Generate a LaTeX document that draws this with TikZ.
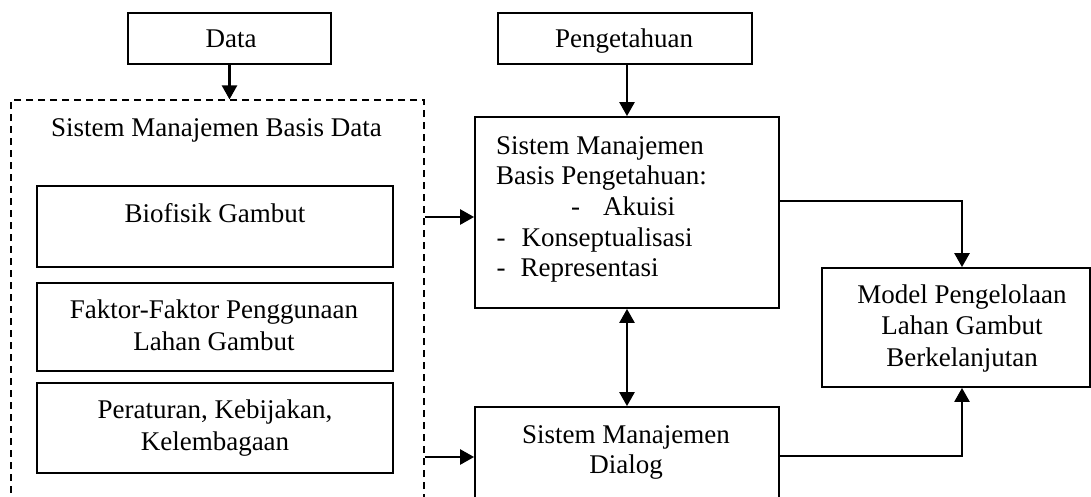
\documentclass[tikz,border=0pt]{standalone}
\usepackage{fontspec}
\setmainfont{Liberation Serif}
\usetikzlibrary{arrows.meta}
\begin{document}
\begin{tikzpicture}[x=1pt,y=-1pt,
  box/.style={draw, line width=1.8pt, inner sep=0pt},
  dbox/.style={draw, line width=1.2pt, dash pattern=on 7pt off 5pt, inner sep=0pt},
  txt/.style={font=\fontsize{27}{31}\selectfont, inner sep=0pt},
  arr/.style={line width=2.5pt, -{Triangle[length=14pt,width=15pt]}},
  darr/.style={line width=2.5pt, {Triangle[length=14pt,width=15pt]}-{Triangle[length=14pt,width=15pt]}}]
\useasboundingbox (0,0) rectangle (1091,496);
\clip (0,0) rectangle (1091,496);
% boxes
\node[box, minimum width=203pt, minimum height=51pt] (data) at (229.5,38.5) {};
\node[box, minimum width=254pt, minimum height=51pt] (peng) at (625,38.5) {};
\node[dbox, minimum width=413pt, minimum height=420pt] (sdb) at (217.5,310) {};
\node[box, minimum width=356pt, minimum height=81pt] (bio) at (215,226.5) {};
\node[box, minimum width=356pt, minimum height=88pt] (fak) at (215,327) {};
\node[box, minimum width=356pt, minimum height=90pt] (per) at (215,428) {};
\node[box, minimum width=304pt, minimum height=191pt] (smbp) at (627,212.5) {};
\node[box, minimum width=304pt, minimum height=113pt] (dial) at (627,463.5) {};
\node[box, minimum width=268pt, minimum height=119pt] (model) at (956,327.5) {};
% texts
\node[txt, anchor=base] (tdata) at (231,47.7) {Data};
\node[txt, anchor=base] (tpeng) at (624,47.7) {Pengetahuan};
\node[txt, anchor=base] (tsdb) at (216.5,136.7) {Sistem Manajemen Basis Data};
\node[txt, anchor=base] (tbio) at (215,222.7) {Biofisik Gambut};
\node[txt, anchor=base] (tfak1) at (214,318.3) {Faktor-Faktor Penggunaan};
\node[txt, anchor=base] (tfak2) at (214,350.7) {Lahan Gambut};
\node[txt, anchor=base] (tper1) at (215,418.3) {Peraturan, Kebijakan,};
\node[txt, anchor=base] (tper2) at (215,450.7) {Kelembagaan};
\node[txt, anchor=base west] (ts1) at (496,154) {Sistem Manajemen};
\node[txt, anchor=base west] (ts2) at (496,184.7) {Basis Pengetahuan:};
\node[txt, anchor=base west] (ts3) at (571,215.4) {\makebox[32pt][l]{-}Akuisi};
\node[txt, anchor=base west] (ts4) at (496.5,246) {\makebox[25pt][l]{-}Konseptualisasi};
\node[txt, anchor=base west] (ts5) at (496.5,276.8) {\makebox[24pt][l]{-}Representasi};
\node[txt, anchor=base] (td1) at (626,443.3) {Sistem Manajemen};
\node[txt, anchor=base] (td2) at (626,473.3) {Dialog};
\node[txt, anchor=base] (tm1) at (962,303.3) {Model Pengelolaan};
\node[txt, anchor=base] (tm2) at (962,334.3) {Lahan Gambut};
\node[txt, anchor=base] (tm3) at (962,366.7) {Berkelanjutan};
% connectors
\coordinate (a1) at (475,217);
\coordinate (a2) at (475,457);
\coordinate (k1) at (962,201);
\coordinate (k2) at (962,456);
\draw[arr] (data.south) -- (data.south |- sdb.north);
\draw[arr] (smbp.north |- peng.south) -- (smbp.north);
\draw[arr] (sdb.east |- a1) -- (smbp.west |- a1);
\draw[arr] (sdb.east |- a2) -- (dial.west |- a2);
\draw[darr] (smbp.south) -- (dial.north);
\draw[arr] (smbp.east |- k1) -- (k1) -- (k1 |- model.north);
\draw[arr] (dial.east |- k2) -- (k2) -- (k2 |- model.south);
\end{tikzpicture}
\end{document}
